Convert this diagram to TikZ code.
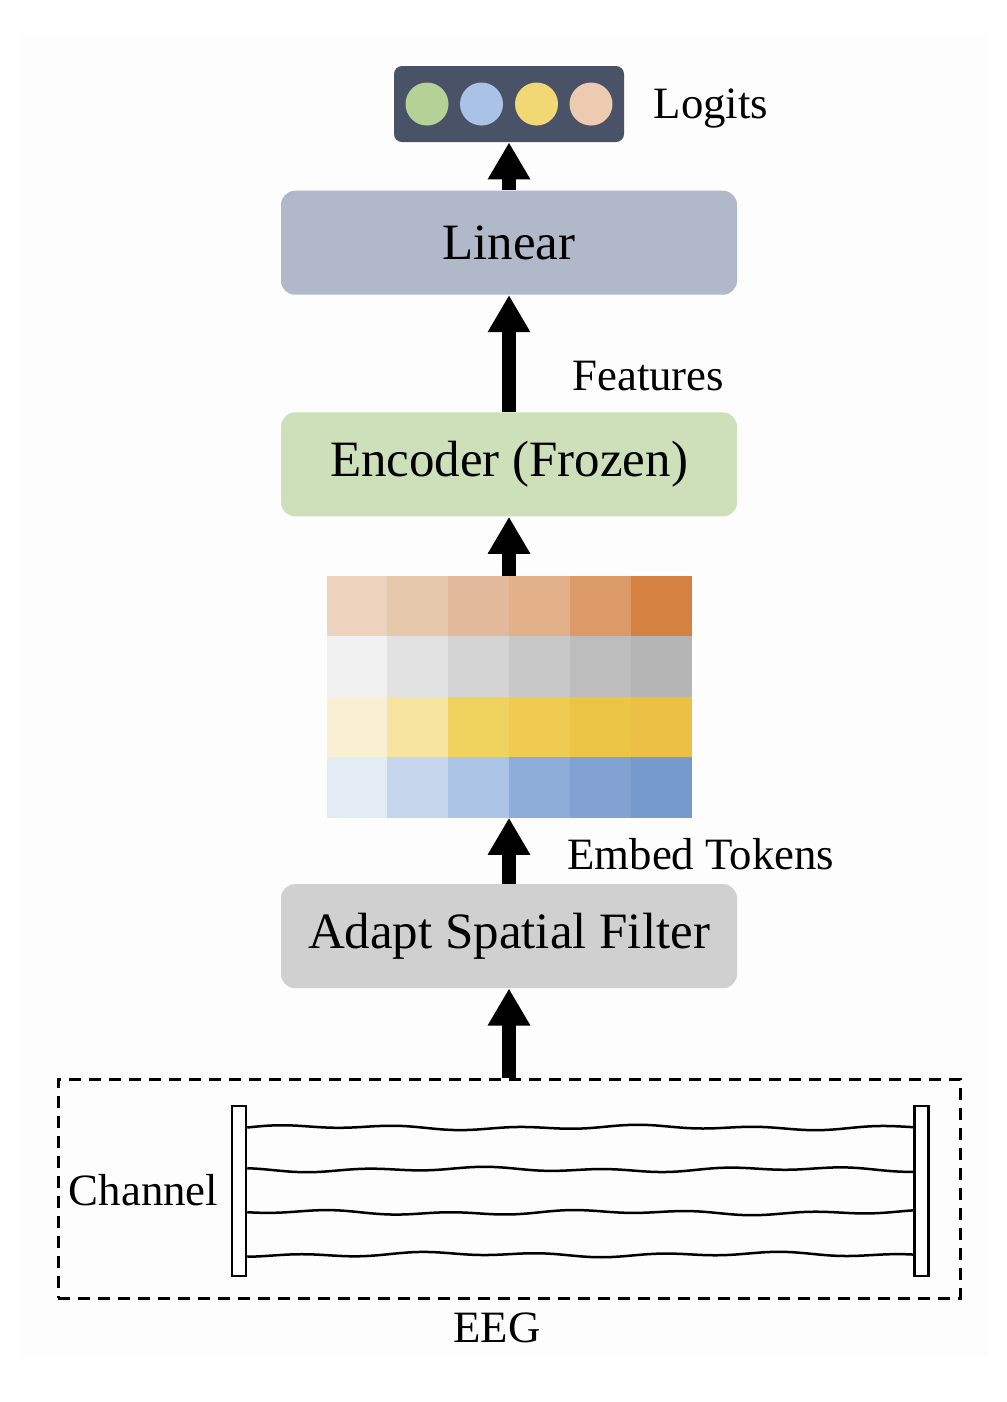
\documentclass[tikz,border=0pt]{standalone}
\usepackage{fontspec}
\setmainfont{Liberation Serif}
\usetikzlibrary{positioning,arrows.meta,calc}
\definecolor{logitsbg}{HTML}{4A5268}
\definecolor{linearbg}{HTML}{B0B8C9}
\definecolor{encoderbg}{HTML}{CDE0B9}
\definecolor{adaptbg}{HTML}{D0D0D0}
\definecolor{pagebg}{HTML}{FDFDFD}
\definecolor{dotgreen}{HTML}{B5D196}
\definecolor{dotblue}{HTML}{A9C2E5}
\definecolor{dotyellow}{HTML}{F2D775}
\definecolor{dotpeach}{HTML}{EDCBB0}
\definecolor{peach0}{HTML}{EDD2BD}
\definecolor{peach1}{HTML}{E6C8AA}
\definecolor{peach2}{HTML}{E2B99A}
\definecolor{peach3}{HTML}{E3B189}
\definecolor{peach4}{HTML}{DB9A68}
\definecolor{peach5}{HTML}{D48142}
\definecolor{grey0}{HTML}{F1F1F1}
\definecolor{grey1}{HTML}{E2E2E2}
\definecolor{grey2}{HTML}{D4D4D4}
\definecolor{grey3}{HTML}{C8C8C8}
\definecolor{grey4}{HTML}{BDBDBD}
\definecolor{grey5}{HTML}{B5B5B5}
\definecolor{gold0}{HTML}{F9F0D3}
\definecolor{gold1}{HTML}{F6E4A0}
\definecolor{gold2}{HTML}{F0D35F}
\definecolor{gold3}{HTML}{EFCB52}
\definecolor{gold4}{HTML}{EDC546}
\definecolor{gold5}{HTML}{ECC044}
\definecolor{blue0}{HTML}{E3EBF5}
\definecolor{blue1}{HTML}{C6D6EC}
\definecolor{blue2}{HTML}{ABC3E4}
\definecolor{blue3}{HTML}{8EACD8}
\definecolor{blue4}{HTML}{82A2D4}
\definecolor{blue5}{HTML}{769ACD}
\tikzset{>={Triangle[width=0.8cm,length=0.74cm]}, font=\fontsize{29}{32}\selectfont}
\tikzstyle{block} = [rectangle, rounded corners=0.28cm, minimum width=9.12cm, minimum height=2.08cm, inner sep=0pt, text centered]
\tikzstyle{note} = [font=\fontsize{25.5}{28}\selectfont, inner sep=0pt]
\tikzstyle{flow} = [->, line width=0.28cm]
\tikzstyle{area} = [rectangle, inner sep=0pt, outer sep=0pt, minimum width=7.3cm, minimum height=4.84cm]
\tikzstyle{cell} = [rectangle, inner sep=0pt, outer sep=0pt, minimum width=1.23cm, minimum height=1.22cm, anchor=north west]
\tikzstyle{dot} = [circle, minimum size=0.86cm, inner sep=0pt]
\tikzstyle{bar} = [draw, fill=white, line width=0.05cm, minimum width=0.28cm, minimum height=3.4cm, inner sep=0pt]
\tikzstyle{wave} = [line width=0.05cm]

\begin{document}
\begin{tikzpicture}
		\useasboundingbox (0,0) rectangle (20.12,-28.04);
		\fill [pagebg] (0.4,-0.74) rectangle (19.78,-27.14);

		\node [rectangle, draw, dashed, dash pattern=on 0.24cm off 0.16cm, line width=0.06cm, minimum width=18.04cm, minimum height=4.38cm] (eeg_box) at (10.18,-23.77) {};
		\node [block, fill=adaptbg, above=1.78cm of eeg_box] (adapt) {Adapt Spatial Filter};
		\node [area, above=1.32cm of adapt] (tokens) {};
		\node [block, fill=encoderbg, above=1.18cm of tokens] (encoder) {Encoder (Frozen)};
		\node [block, fill=linearbg, above=2.34cm of encoder] (linear) {Linear};
		\node [rectangle, fill=logitsbg, rounded corners=0.16cm, minimum width=4.6cm, minimum height=1.52cm, above=0.96cm of linear] (logits) {};

		\node [dot, fill=dotgreen] at ($(logits)+(-1.64,0)$) (dot_a) {};
		\node [dot, fill=dotblue] at ($(logits)+(-0.55,0)$) (dot_b) {};
		\node [dot, fill=dotyellow] at ($(logits)+(0.55,0)$) (dot_c) {};
		\node [dot, fill=dotpeach] at ($(logits)+(1.64,0)$) (dot_d) {};

		\foreach \r/\hue in {0/peach,1/grey,2/gold,3/blue}
			\foreach \c in {0,...,5}
				\node [cell, fill=\hue\c] (cell-\r-\c) at ($(tokens.north west)+({1.2167*\c},{-1.21*\r})$) {};

		\node [note, right=0.58cm of logits, yshift=-0.08cm] (logits_txt) {Logits};
		\node [note, anchor=west] at ($(encoder.north)+(1.26,0.72)$) (features) {Features};
		\node [note, anchor=west] at ($(adapt.north)+(1.16,0.6)$) (embed) {Embed Tokens};
		\node [note, anchor=west] at ($(eeg_box.west)+(0.24,-0.03)$) (channel) {Channel};
		\node [note] at ($(eeg_box.south)+(-0.24,-0.56)$) (eeg_txt) {EEG};

		\node [bar] at ($(eeg_box)+(-5.4,-0.05)$) (bar_l) {};
		\node [bar] at ($(eeg_box)+(8.25,-0.05)$) (bar_r) {};

		\foreach \yy/\ph in {1.27/0, 0.43/95, -0.43/200, -1.27/290}
			\draw [wave, shift={(bar_l.east)}] plot [domain=0:13.36, samples=100, smooth] (\x, {\yy + 0.03*sin(150*\x+\ph) + 0.025*sin(57*\x+2*\ph)});

		\draw [flow] (eeg_box.north) -- (adapt.south);
		\draw [flow] (adapt.north) -- (tokens.south);
		\draw [flow] (tokens.north) -- (encoder.south);
		\draw [flow] (encoder.north) -- (linear.south);
		\draw [flow] (linear.north) -- (logits.south);
	\end{tikzpicture}
\end{document}
